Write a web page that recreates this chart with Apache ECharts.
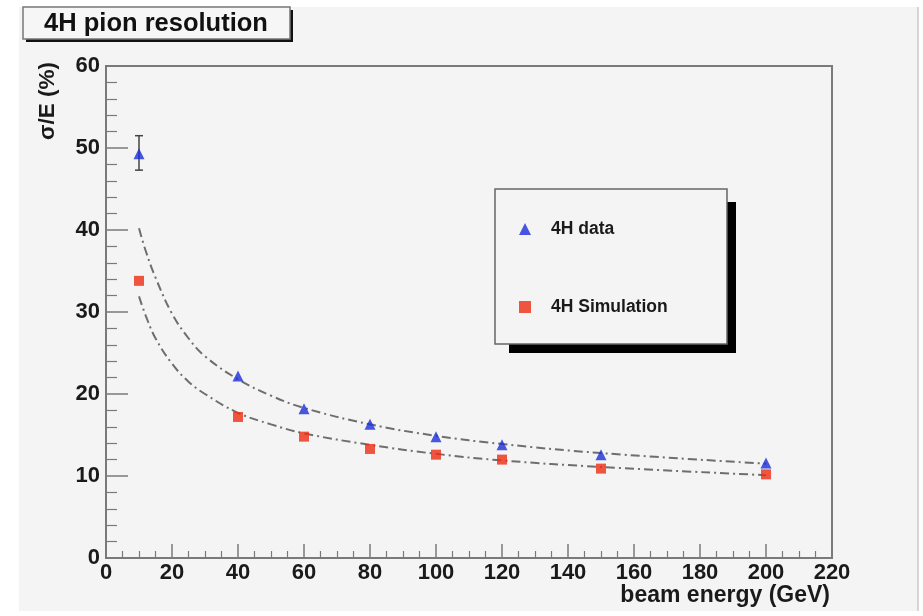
<!DOCTYPE html>
<html>
<head>
<meta charset="utf-8">
<script src="https://cdn.jsdelivr.net/npm/echarts@6/dist/echarts.min.js"></script>
<style>
html,body{margin:0;padding:0;background:#fff;}
#chart{width:923px;height:616px;}
</style>
</head>
<body>
<div id="chart"></div>
<script>
// ---- data ----
const beamEnergy = [10, 40, 60, 80, 100, 120, 150, 200];
const dataRes = [49.3, 22.2, 18.2, 16.3, 14.8, 13.8, 12.6, 11.6];
const simRes  = [33.8, 17.2, 14.8, 13.3, 12.6, 12.0, 10.9, 10.2];
const errX = [10];
const errLow = [47.3];
const errHigh = [51.5];
const fitX = [10, 12, 15, 20, 25, 30, 40, 50, 60, 80, 100, 120, 150, 200];
const fitDataY = [40.2, 37.5, 34.2, 29.8, 26.8, 24.6, 21.8, 19.8, 18.3, 16.3, 14.9, 13.9, 12.8, 11.5];
const fitSimY  = [31.9, 29.6, 26.8, 23.7, 21.5, 20.0, 17.7, 16.3, 15.2, 13.8, 12.7, 11.9, 11.1, 10.1];
const xTicks = {min: 0, max: 220, interval: 20};
const yTicks = {min: 0, max: 60, interval: 10};

const FONT = '"Liberation Sans", Arial, Helvetica, sans-serif';
const AX = '#7a7a7a';
const BLUE = '#1a2ed8';
const RED = '#ee2c14';

const zip = (xs, ys) => xs.map((x, i) => [x, ys[i]]);

const chart = echarts.init(document.getElementById('chart'), null, {renderer: 'canvas'});
chart.setOption({
  backgroundColor: '#ffffff',
  animation: false,
  grid: {left: 106, top: 66, right: 91, bottom: 58, show: true, borderColor: AX, borderWidth: 2, backgroundColor: 'transparent', z: 1},
  xAxis: {
    type: 'value', min: xTicks.min, max: xTicks.max, interval: xTicks.interval,
    axisLine: {show: true, lineStyle: {color: AX, width: 2}},
    axisTick: {show: true, inside: true, length: 14, lineStyle: {color: AX, width: 1.5}},
    minorTick: {show: true, splitNumber: 4, length: 7, lineStyle: {color: AX, width: 1.2}},
    splitLine: {show: false},
    axisLabel: {margin: 4, fontSize: 22, fontWeight: 'bold', fontFamily: FONT, color: '#1a1a1a'}
  },
  yAxis: {
    type: 'value', min: yTicks.min, max: yTicks.max, interval: yTicks.interval,
    axisLine: {show: true, lineStyle: {color: AX, width: 2}},
    axisTick: {show: true, inside: true, length: 22, lineStyle: {color: AX, width: 1.5}},
    minorTick: {show: true, splitNumber: 5, length: 11, lineStyle: {color: AX, width: 1.2}},
    splitLine: {show: false},
    axisLabel: {margin: 6, fontSize: 22, fontWeight: 'bold', fontFamily: FONT, color: '#1a1a1a', padding: [5, 0, 0, 0]}
  },
  legend: {
    data: ['4H data', '4H Simulation'],
    orient: 'vertical', left: 519, top: 220, padding: 0,
    itemWidth: 12, itemHeight: 12, itemGap: 60,
    selectedMode: false,
    textStyle: {fontSize: 17.5, fontWeight: 'bold', fontFamily: FONT, color: '#1a1a1a', lineHeight: 18, padding: [0, 0, 0, 15]},
    z: 10
  },
  graphic: [
    {type: 'rect', z: -100, silent: true, shape: {x: 19, y: 7, width: 899, height: 604}, style: {fill: '#f4f4f4'}},
    {type: 'line', z: -99, silent: true, shape: {x1: 918, y1: 7, x2: 918, y2: 611}, style: {stroke: '#c8c8c8', lineWidth: 1.5}},
    // title box
    {type: 'rect', z: 5, silent: true, shape: {x: 26, y: 10, width: 267, height: 32}, style: {fill: '#111'}},
    {type: 'rect', z: 6, silent: true, shape: {x: 23, y: 7, width: 267, height: 32}, style: {fill: '#f6f6f6', stroke: '#777', lineWidth: 1.5}},
    {type: 'text', z: 7, silent: true, style: {x: 156, y: 24, text: '4H pion resolution', align: 'center', verticalAlign: 'middle', font: 'bold 25.5px ' + FONT, fill: '#111'}},
    // axis titles
    {type: 'text', z: 7, silent: true, x: 48, y: 101, rotation: Math.PI / 2, style: {x: 0, y: 0, text: 'σ/E (%)', align: 'center', verticalAlign: 'middle', font: 'bold 22.5px ' + FONT, fill: '#1a1a1a'}},
    {type: 'text', z: 7, silent: true, style: {x: 830, y: 596, text: 'beam energy (GeV)', align: 'right', verticalAlign: 'middle', font: 'bold 23px ' + FONT, fill: '#1a1a1a'}},
    // legend box + shadow
    {type: 'rect', z: 3, silent: true, shape: {x: 509, y: 202, width: 227, height: 151}, style: {fill: '#000'}},
    {type: 'rect', z: 4, silent: true, shape: {x: 495, y: 189, width: 232, height: 155}, style: {fill: '#f4f4f4', stroke: '#666', lineWidth: 1.5}}
  ],
  series: [
    {
      name: 'fit data', type: 'line', smooth: 0.4, showSymbol: false, symbol: 'none', z: 2,
      data: zip(fitX, fitDataY),
      lineStyle: {color: '#6e6e6e', width: 2, type: [9, 4, 2, 4]}
    },
    {
      name: 'fit sim', type: 'line', smooth: 0.4, showSymbol: false, symbol: 'none', z: 2,
      data: zip(fitX, fitSimY),
      lineStyle: {color: '#6e6e6e', width: 2, type: [9, 4, 2, 4]}
    },
    {
      name: 'err', type: 'custom', z: 3,
      data: errX.map((x, i) => [x, errLow[i], errHigh[i]]),
      renderItem: function (params, api) {
        const lo = api.coord([api.value(0), api.value(1)]);
        const hi = api.coord([api.value(0), api.value(2)]);
        const st = {stroke: '#444', lineWidth: 1.5};
        return {type: 'group', children: [
          {type: 'line', shape: {x1: lo[0], y1: lo[1], x2: hi[0], y2: hi[1]}, style: st},
          {type: 'line', shape: {x1: lo[0] - 4, y1: lo[1], x2: lo[0] + 4, y2: lo[1]}, style: st},
          {type: 'line', shape: {x1: hi[0] - 4, y1: hi[1], x2: hi[0] + 4, y2: hi[1]}, style: st}
        ]};
      }
    },
    {
      name: '4H data', type: 'scatter', symbol: 'triangle', symbolSize: 11, z: 5,
      itemStyle: {color: BLUE},
      data: zip(beamEnergy, dataRes)
    },
    {
      name: '4H Simulation', type: 'scatter', symbol: 'rect', symbolSize: 10, z: 5,
      itemStyle: {color: RED},
      data: zip(beamEnergy, simRes)
    }
  ]
});
</script>
</body>
</html>
